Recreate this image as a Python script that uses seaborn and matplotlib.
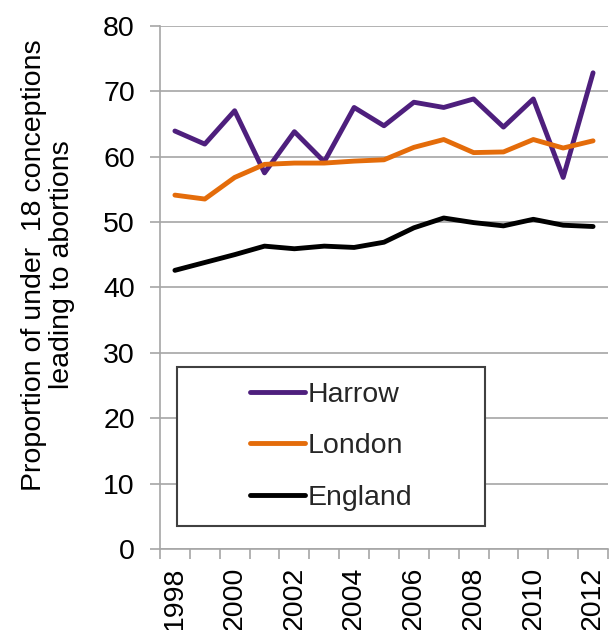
"""
Under-18 conceptions leading to abortions: Harrow vs London vs England.
"""

import matplotlib
matplotlib.use("Agg")
import matplotlib.pyplot as plt
from matplotlib.patches import Rectangle
from matplotlib.lines import Line2D
import pandas as pd
import seaborn as sns

# Data
YEARS = list(range(1998, 2013))
HARROW = [63.9, 61.9, 67.0, 57.5, 63.8, 59.2, 67.5, 64.7, 68.3, 67.5, 68.8, 64.5, 68.8, 56.8, 72.8]
LONDON = [54.1, 53.5, 56.8, 58.8, 59.0, 59.0, 59.3, 59.5, 61.4, 62.6, 60.6, 60.7, 62.6, 61.3, 62.4]
ENGLAND = [42.6, 43.8, 45.0, 46.3, 45.9, 46.3, 46.1, 46.9, 49.1, 50.6, 49.9, 49.4, 50.4, 49.5, 49.3]
SERIES = ["Harrow", "London", "England"]
Y_TICKS = list(range(0, 90, 10))

PURPLE = "#4E1F7D"
ORANGE = "#E46C0A"
BLACK = "#000000"
GRID = "#A6A6A6"

sns.set_theme(style="white")
plt.rcParams["font.family"] = ["Liberation Sans", "DejaVu Sans"]

df = pd.DataFrame({
    "idx": list(range(len(YEARS))) * 3,
    "value": HARROW + LONDON + ENGLAND,
    "area": [s for s in SERIES for _ in YEARS],
})

fig = plt.figure(figsize=(6.16, 6.30), dpi=100)
ax = fig.add_axes([0.2597, 0.1286, 0.7273, 0.8306])

sns.lineplot(
    data=df, x="idx", y="value", hue="area", hue_order=SERIES,
    palette=[PURPLE, ORANGE, BLACK], linewidth=3.5, ax=ax, legend=False,
)

ax.set_xlim(-0.5, len(YEARS) - 0.5)
ax.set_ylim(0, 80)
ax.set_yticks(Y_TICKS)
ax.yaxis.grid(True, color=GRID, linewidth=1.2)
ax.xaxis.grid(False)

# category labels at centres, tick marks at category boundaries
ax.set_xticks(range(0, len(YEARS), 2))
ax.set_xticklabels([str(y) for y in YEARS[::2]], rotation=90)
ax.set_xticks([i - 0.5 for i in range(len(YEARS) + 1)], minor=True)
ax.tick_params(axis="x", which="major", length=0, pad=13, labelsize=20.5, colors="black")
ax.tick_params(axis="x", which="minor", bottom=True, length=7, width=1.2, color=GRID, direction="out")
ax.tick_params(axis="y", which="major", left=True, length=7, width=1.2, color=GRID,
               direction="out", labelsize=20.5, labelcolor="black", pad=11)

for side in ["top", "right"]:
    ax.spines[side].set_visible(False)
for side in ["left", "bottom"]:
    ax.spines[side].set_color(GRID)
    ax.spines[side].set_linewidth(1.2)

ax.set_xlabel("")
ax.set_ylabel("Proportion of under  18 conceptions\nleading to abortions",
              fontsize=20.5, linespacing=1.1, color="black")
ax.yaxis.set_label_coords(-0.19, 0.543)

# legend (frame drawn separately to match the wide box)
handles = [Line2D([], [], color=c, linewidth=3.5) for c in [PURPLE, ORANGE, BLACK]]
leg = ax.legend(handles, SERIES, loc="center", bbox_to_anchor=(0.382, 0.196),
                frameon=False, fontsize=20.5, handlelength=1.95, handletextpad=0.1,
                labelspacing=0.9)
ax.add_patch(Rectangle((0.038, 0.044), 0.687, 0.304, transform=ax.transAxes,
                       facecolor="white", edgecolor="#404040", linewidth=1.5, zorder=4))
leg.set_zorder(5)

fig.savefig("out.png", dpi=100, facecolor="white")
